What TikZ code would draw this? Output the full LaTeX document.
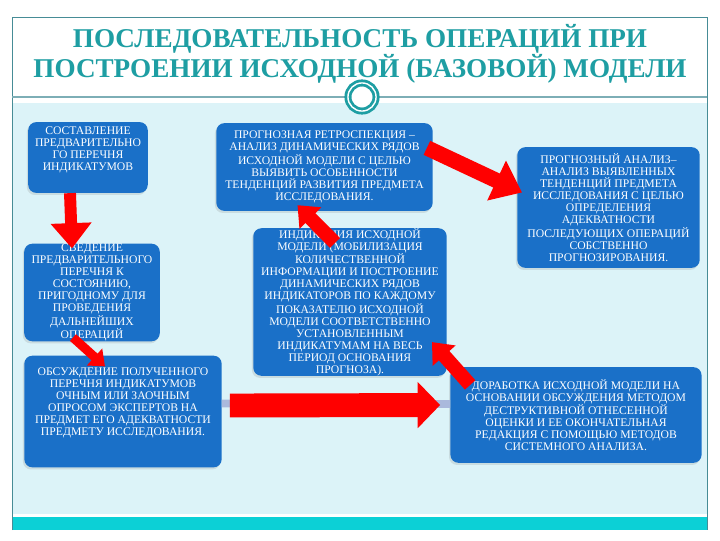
\documentclass[tikz,border=0pt]{standalone}
\usepackage{fontspec}
\setmainfont{Liberation Serif}
\usetikzlibrary{arrows.meta,calc,shadows}
\definecolor{boxblue}{RGB}{26,112,200}
\definecolor{paleblue}{RGB}{220,243,248}
\definecolor{bandteal}{RGB}{12,208,214}
\definecolor{titleteal}{RGB}{30,158,163}
\definecolor{frameteal}{RGB}{70,140,150}
\definecolor{barblue}{RGB}{170,185,220}
\begin{document}
\begin{tikzpicture}[x=0.025cm,y=-0.025cm,
	opbox/.style={draw=none,fill=boxblue,rounded corners=5.7pt,text=white,
		align=center,inner sep=0pt,font=\fontsize{8.3}{8.5}\selectfont,
		drop shadow={opacity=0.2,shadow xshift=-1pt,shadow yshift=-1.5pt}},
	redarrow/.style n args={3}{draw=red,line width=#1,
		-{Triangle[length=#2,width=#3]}}]
\useasboundingbox (0,0) rectangle (720,540);
\fill[white] (0,0) rectangle (720,540);
% background
\fill[paleblue] (12,103) rectangle (707,514);
\fill[bandteal] (12,517) rectangle (707,530);
\draw[frameteal,line width=0.6pt] (12,530) -- (12,17) -- (707,17) -- (707,530);
\draw[frameteal!70,line width=0.8pt] (12,97) -- (707,97);
\node[circle,fill=white,draw=titleteal,line width=2pt,minimum size=20pt,
	double=white,double distance=1pt] (ring) at (362,97) {};
% title
\node[text=titleteal,font=\fontsize{19.3}{20}\selectfont\bfseries,align=center] (title) at (360,54)
	{ПОСЛЕДОВАТЕЛЬНОСТЬ ОПЕРАЦИЙ ПРИ\\ПОСТРОЕНИИ ИСХОДНОЙ (БАЗОВОЙ) МОДЕЛИ};
% boxes
\node[opbox,minimum width=85pt,minimum height=50.3pt] (list) at (88,157.5)
	{СОСТАВЛЕНИЕ\\ПРЕДВАРИТЕЛЬНО\\ГО ПЕРЕЧНЯ\\ИНДИКАТУМОВ\\[4pt]};
\node[opbox,minimum width=153.8pt,minimum height=62.4pt] (retro) at (324.5,167)
	{ПРОГНОЗНАЯ РЕТРОСПЕКЦИЯ –\\АНАЛИЗ ДИНАМИЧЕСКИХ РЯДОВ\\ИСХОДНОЙ МОДЕЛИ С ЦЕЛЬЮ\\ВЫЯВИТЬ ОСОБЕННОСТИ\\ТЕНДЕНЦИЙ РАЗВИТИЯ ПРЕДМЕТА\\ИССЛЕДОВАНИЯ.};
\node[opbox,minimum width=129.7pt,minimum height=85.8pt] (analysis) at (608.5,207.5)
	{ПРОГНОЗНЫЙ АНАЛИЗ–\\АНАЛИЗ ВЫЯВЛЕННЫХ\\ТЕНДЕНЦИЙ ПРЕДМЕТА\\ИССЛЕДОВАНИЯ С ЦЕЛЬЮ\\ОПРЕДЕЛЕНИЯ\\АДЕКВАТНОСТИ\\ПОСЛЕДУЮЩИХ ОПЕРАЦИЙ\\СОБСТВЕННО\\ПРОГНОЗИРОВАНИЯ.};
\node[opbox,minimum width=96.4pt,minimum height=67.3pt] (reduce) at (92,292.5)
	{СВЕДЕНИЕ\\ПРЕДВАРИТЕЛЬНОГО\\ПЕРЕЧНЯ К\\СОСТОЯНИЮ,\\ПРИГОДНОМУ ДЛЯ\\ПРОВЕДЕНИЯ\\ДАЛЬНЕЙШИХ\\ОПЕРАЦИЙ};
\node[opbox,minimum width=137.5pt,minimum height=102pt] (indic) at (350,302)
	{ИНДИКАЦИЯ ИСХОДНОЙ\\МОДЕЛИ (МОБИЛИЗАЦИЯ\\КОЛИЧЕСТВЕННОЙ\\ИНФОРМАЦИИ И ПОСТРОЕНИЕ\\ДИНАМИЧЕСКИХ РЯДОВ\\ИНДИКАТОРОВ ПО КАЖДОМУ\\ПОКАЗАТЕЛЮ ИСХОДНОЙ\\МОДЕЛИ СООТВЕТСТВЕННО\\УСТАНОВЛЕННЫМ\\ИНДИКАТУМАМ НА ВЕСЬ\\ПЕРИОД ОСНОВАНИЯ\\ПРОГНОЗА).};
\node[opbox,minimum width=140.3pt,minimum height=79.4pt] (discuss) at (123,411.5)
	{ОБСУЖДЕНИЕ ПОЛУЧЕННОГО\\ПЕРЕЧНЯ ИНДИКАТУМОВ\\ОЧНЫМ ИЛИ ЗАОЧНЫМ\\ОПРОСОМ ЭКСПЕРТОВ НА\\ПРЕДМЕТ ЕГО АДЕКВАТНОСТИ\\ПРЕДМЕТУ ИССЛЕДОВАНИЯ.\\[6pt]};
\node[opbox,minimum width=178.6pt,minimum height=68pt] (refine) at (576,415)
	{ДОРАБОТКА ИСХОДНОЙ МОДЕЛИ НА\\ОСНОВАНИИ ОБСУЖДЕНИЯ МЕТОДОМ\\ДЕСТРУКТИВНОЙ ОТНЕСЕННОЙ\\ОЦЕНКИ И ЕЕ ОКОНЧАТЕЛЬНАЯ\\РЕДАКЦИЯ С ПОМОЩЬЮ МЕТОДОВ\\СИСТЕМНОГО АНАЛИЗА.};
% arrows
\draw[barblue,line width=5.5pt] ($(discuss.east)+(0,-8)$) -- ($(refine.west)+(0,-11)$);
\draw[redarrow={8.5pt}{18pt}{28pt}] ($(list.south)+(-18,0)$) -- ($(reduce.north)+(-20,5)$);
\draw[redarrow={6.4pt}{10pt}{15.6pt}] ($(reduce.south)+(-19,-4)$) -- ($(discuss.north)+(-18,11)$);
\draw[redarrow={17pt}{16pt}{32pt}] ($(discuss.east)+(8,-6)$) -- ($(refine.west)+(-10,-10)$);
\draw[redarrow={10pt}{13pt}{21pt}] ($(refine.north west)+(20,18)$) -- ($(indic.south east)+(-15,-34)$);
\draw[redarrow={10pt}{13pt}{21pt}] ($(indic.north)+(-15,15)$) -- ($(retro.south)+(-27,-6)$);
\draw[redarrow={11pt}{20pt}{30pt}] ($(retro.north east)+(-6,25)$) -- ($(analysis.west)+(5,-15)$);
\end{tikzpicture}
\end{document}
